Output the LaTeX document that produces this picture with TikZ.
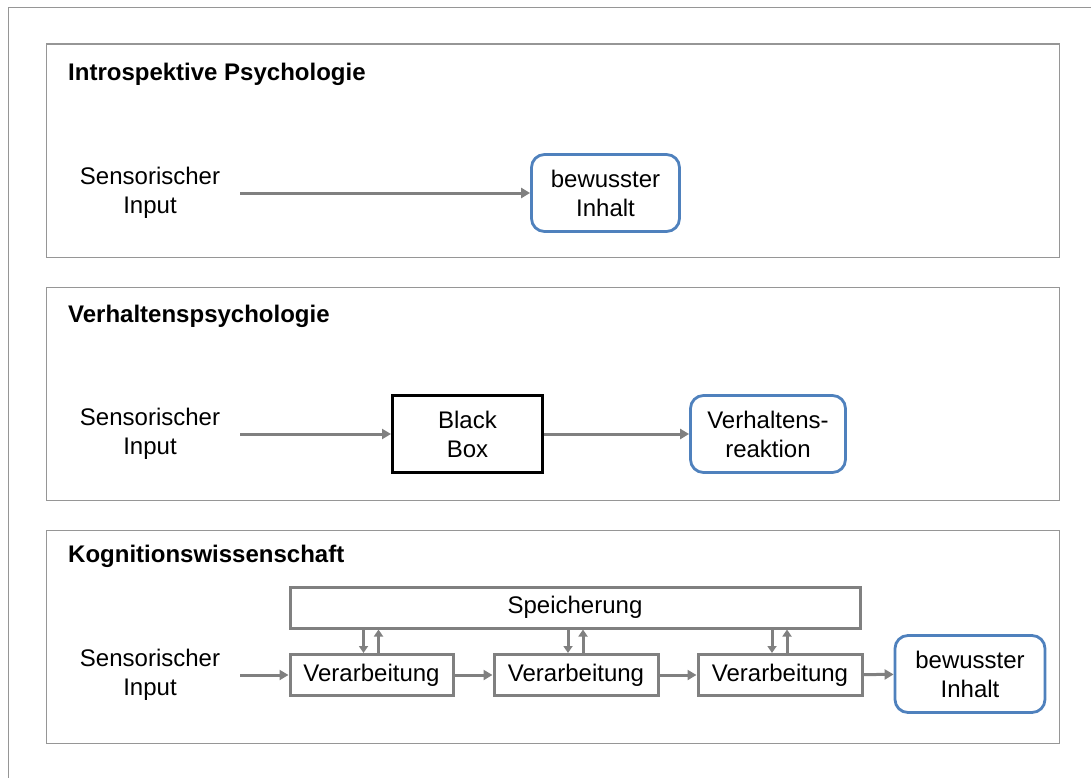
\documentclass[tikz,border=0pt]{standalone}
\usepackage{fontspec}
\setmainfont{Liberation Sans}
\usetikzlibrary{arrows.meta}
\definecolor{lgray}{RGB}{128,128,128}
\definecolor{pgray}{RGB}{150,150,150}
\definecolor{mblue}{RGB}{79,129,189}
\begin{document}
\begin{tikzpicture}[x=1pt,y=-1pt,
  txt/.style={font=\fontsize{24}{29}\selectfont, align=center, inner sep=0pt},
  intxt/.style={txt, outer xsep=20pt},
  ttl/.style={font=\fontsize{24}{29}\selectfont\bfseries, anchor=west, inner sep=0pt},
  panel/.style={draw=pgray, line width=1.5pt, anchor=north west, inner sep=0pt},
  bluebox/.style={draw=mblue, line width=2.8pt, rounded corners=13pt, fill=white, txt, minimum width=148pt, minimum height=77pt},
  graybox/.style={draw=lgray, line width=3pt, fill=white, txt, minimum height=41pt},
  blackbox/.style={draw=black, line width=3pt, fill=white, txt, minimum width=150pt, minimum height=77pt},
  arr/.style={draw=lgray, line width=3pt, -{Triangle[length=9pt,width=10pt]}},
  varr/.style={draw=lgray, line width=3pt, -{Triangle[length=7pt,width=9pt]}},
]
\path[use as bounding box] (0,0) rectangle (1091,778);
\draw[pgray, line width=1.5pt] (1091,7.5) -- (8.5,7.5) -- (8.5,778);

% panels
\node[panel, minimum width=1013pt, minimum height=213pt] (p1) at (45.5,43.5) {};
\node[panel, minimum width=1013pt, minimum height=213pt] (p2) at (45.5,286.5) {};
\node[panel, minimum width=1013pt, minimum height=213pt] (p3) at (45.5,529.5) {};

\node[ttl] (t1) at (68,74) {Introspektive Psychologie};
\node[ttl] (t2) at (68,316) {Verhaltenspsychologie};
\node[ttl] (t3) at (68,556) {Kognitionswissenschaft};

% panel 1
\node[intxt] (in1) at (150,193) {Sensorischer\\Input};
\node[bluebox] (bw1) at (605.5,193) {bewusster\\Inhalt};
\draw[arr] (in1) -- (bw1);

% panel 2
\node[intxt] (in2) at (150,434) {Sensorischer\\Input};
\node[blackbox] (bb) at (467.5,434) {Black\\Box};
\node[bluebox, minimum width=155pt] (vr) at (768,434) {Verhaltens-\\reaktion};
\draw[arr] (in2) -- (bb);
\draw[arr] (bb) -- (vr);

% panel 3
\node[intxt] (in3) at (150,675) {Sensorischer\\Input};
\node[graybox, minimum width=570pt] (sp) at (575,607.5) {Speicherung};
\node[graybox, minimum width=163pt] (v1) at (371.5,675) {Verarbeitung};
\node[graybox, minimum width=164pt] (v2) at (576,675) {Verarbeitung};
\node[graybox, minimum width=164pt] (v3) at (780,675) {Verarbeitung};
\node[bluebox, minimum width=150pt] (bw3) at (970,674) {bewusster\\Inhalt};
\draw[arr] (in3) -- (v1);
\draw[arr] (v1) -- (v2);
\draw[arr] (v2) -- (v3);
\draw[arr] (v3) -- (bw3);

\foreach \v in {v1,v2,v3}{
  \coordinate (d\v) at ([xshift=-8pt]\v.north);
  \coordinate (u\v) at ([xshift=7pt]\v.north);
  \draw[varr] (d\v |- sp.south) -- (d\v);
  \draw[varr] (u\v) -- (u\v |- sp.south);
}
\end{tikzpicture}
\end{document}
